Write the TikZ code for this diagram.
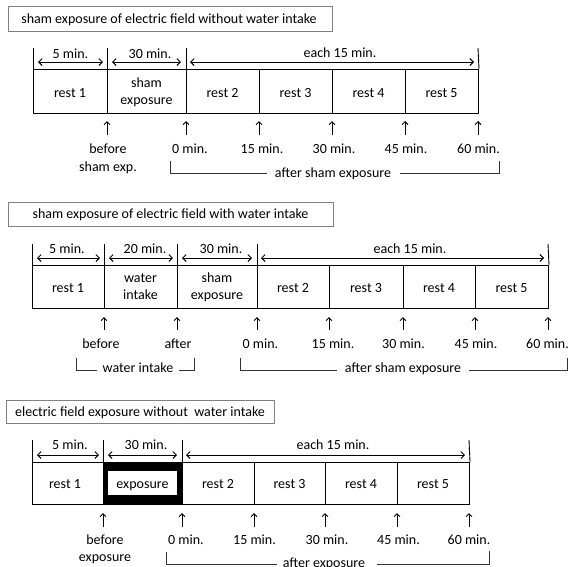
\documentclass[tikz,border=0pt]{standalone}
\usepackage{fontspec}
\setmainfont{Carlito}
\usetikzlibrary{arrows.meta,calc}
\tikzset{
  lbl/.style={inner sep=0pt, anchor=base, font=\fontsize{14}{17}\selectfont, text=black},
  title/.style={draw=black!50, line width=0.8pt, inner sep=0pt, anchor=north west},
  cell/.style={draw=black, line width=1pt, inner sep=0pt, anchor=north west, minimum height=44pt},
  tick/.style={line width=0.9pt},
  dim/.style={line width=0.9pt, {Straight Barb[length=3.5pt,width=7pt]}-{Straight Barb[length=3.5pt,width=7pt]}},
  uparrow/.style={line width=0.9pt, -{Straight Barb[length=3pt,width=6pt]}},
  brk/.style={line width=0.9pt, draw=black!80}
}
\begin{document}
\begin{tikzpicture}[x=1pt,y=-1pt]
\useasboundingbox (0,0) rectangle (569,566);
\fill[white] (0,0) rectangle (569,566);

% ================= Panel 1 =================
\node[title, minimum width=324pt, minimum height=25pt] (t1) at (8,6) {};
\node[lbl] (t1txt) at (169,23) {sham exposure of electric field without water intake};

\node[cell, minimum width=74pt] (a1) at (33,69) {};
\node[cell, minimum width=79pt] (a2) at (107,69) {};
\node[cell, minimum width=73pt] (a3) at (186,69) {};
\node[cell, minimum width=73pt] (a4) at (259,69) {};
\node[cell, minimum width=73pt] (a5) at (332,69) {};
\node[cell, minimum width=73pt] (a6) at (405,69) {};

\node[lbl] (a1t) at (70,97) {rest 1};
\node[lbl] (a2t) at (146.5,87) {sham};
\node[lbl] (a2u) at (146.5,104) {exposure};
\node[lbl] (a3t) at (222.5,97) {rest 2};
\node[lbl] (a4t) at (295.5,97) {rest 3};
\node[lbl] (a5t) at (368.5,97) {rest 4};
\node[lbl] (a6t) at (441.5,97) {rest 5};

% ticks above
\coordinate (p1k0) at (33,48); \coordinate (p1k1) at (107,48);
\coordinate (p1k2) at (186,48); \coordinate (p1k3) at (478,48);
\draw[tick] (p1k0) -- (a1.north west);
\draw[tick] (p1k1) -- (a2.north west);
\draw[tick] (p1k2) -- (a3.north west);
\draw[tick] (p1k3) -- (a6.north east);
% dimension arrows
\coordinate (p1d0) at (38,62); \coordinate (p1d1) at (103,62);
\coordinate (p1d2) at (112,62); \coordinate (p1d3) at (181,62);
\coordinate (p1d4) at (190,62); \coordinate (p1d5) at (474,62);
\draw[dim] (p1d0) -- (p1d1);
\draw[dim] (p1d2) -- (p1d3);
\draw[dim] (p1d4) -- (p1d5);
\node[lbl] (p1l0) at (70.5,58) {5 min.};
\node[lbl] (p1l1) at (150,58) {30 min.};
\node[lbl] (p1l2) at (340,57) {each 15 min.};

% up arrows
\foreach \x/\n in {107/0,186/1,259/2,332/3,405/4,478/5}{
  \coordinate (p1u\n) at (\x,135); \coordinate (p1v\n) at (\x,121);
  \draw[uparrow] (p1u\n) -- (p1v\n);
}
\node[lbl] (p1b0) at (108,153) {before};
\node[lbl] (p1b1) at (108,171) {sham exp.};
\node[lbl] (p1m0) at (190,153) {0 min.};
\node[lbl] (p1m1) at (262,153) {15 min.};
\node[lbl] (p1m2) at (334,153) {30 min.};
\node[lbl] (p1m3) at (406,153) {45 min.};
\node[lbl] (p1m4) at (478.5,153) {60 min.};
% bracket
\node[lbl] (p1br) at (333,177) {after sham exposure};
\coordinate (p1q0) at (170,161); \coordinate (p1q1) at (170,173);
\coordinate (p1q2) at (267,173); \coordinate (p1q3) at (400,173);
\coordinate (p1q4) at (499,173); \coordinate (p1q5) at (499,161);
\draw[brk] (p1q0) -- (p1q1) -- (p1q2);
\draw[brk] (p1q3) -- (p1q4) -- (p1q5);

% ================= Panel 2 =================
\node[title, minimum width=325pt, minimum height=24pt] (t2) at (8,202) {};
\node[lbl] (t2txt) at (170.5,218) {sham exposure of electric field with water intake};

\node[cell, minimum width=72pt, minimum height=43pt] (b1) at (32,265) {};
\node[cell, minimum width=73pt, minimum height=43pt] (b2) at (104,265) {};
\node[cell, minimum width=80pt, minimum height=43pt] (b3) at (177,265) {};
\node[cell, minimum width=72pt, minimum height=43pt] (b4) at (257,265) {};
\node[cell, minimum width=74pt, minimum height=43pt] (b5) at (329,265) {};
\node[cell, minimum width=72pt, minimum height=43pt] (b6) at (403,265) {};
\node[cell, minimum width=73pt, minimum height=43pt] (b7) at (475,265) {};

\node[lbl] (b1t) at (68,292) {rest 1};
\node[lbl] (b2t) at (140.5,282) {water};
\node[lbl] (b2u) at (140.5,299) {intake};
\node[lbl] (b3t) at (217,282) {sham};
\node[lbl] (b3u) at (217,299) {exposure};
\node[lbl] (b4t) at (293,292) {rest 2};
\node[lbl] (b5t) at (366,292) {rest 3};
\node[lbl] (b6t) at (439,292) {rest 4};
\node[lbl] (b7t) at (511.5,292) {rest 5};

\coordinate (p2k0) at (32,244); \coordinate (p2k1) at (104,244);
\coordinate (p2k2) at (177,244); \coordinate (p2k3) at (257,244);
\coordinate (p2k4) at (548,244);
\draw[tick] (p2k0) -- (b1.north west);
\draw[tick] (p2k1) -- (b2.north west);
\draw[tick] (p2k2) -- (b3.north west);
\draw[tick] (p2k3) -- (b4.north west);
\draw[tick] (p2k4) -- (b7.north east);
\coordinate (p2d0) at (37,258); \coordinate (p2d1) at (100,258);
\coordinate (p2d2) at (109,258); \coordinate (p2d3) at (173,258);
\coordinate (p2d4) at (182,258); \coordinate (p2d5) at (252,258);
\coordinate (p2d6) at (261,258); \coordinate (p2d7) at (544,258);
\draw[dim] (p2d0) -- (p2d1);
\draw[dim] (p2d2) -- (p2d3);
\draw[dim] (p2d4) -- (p2d5);
\draw[dim] (p2d6) -- (p2d7);
\node[lbl] (p2l0) at (67,253) {5 min.};
\node[lbl] (p2l1) at (145,253) {20 min.};
\node[lbl] (p2l2) at (221,253) {30 min.};
\node[lbl] (p2l3) at (410,253) {each 15 min.};

\foreach \x/\n in {104/0,177/1,257/2,329/3,403/4,475/5,548/6}{
  \coordinate (p2u\n) at (\x,330); \coordinate (p2v\n) at (\x,317);
  \draw[uparrow] (p2u\n) -- (p2v\n);
}
\node[lbl] (p2b0) at (101,348) {before};
\node[lbl] (p2b1) at (178,348) {after};
\node[lbl] (p2m0) at (260.5,348) {0 min.};
\node[lbl] (p2m1) at (333,348) {15 min.};
\node[lbl] (p2m2) at (403.5,348) {30 min.};
\node[lbl] (p2m3) at (476,348) {45 min.};
\node[lbl] (p2m4) at (547.5,348) {60 min.};
\node[lbl] (p2w) at (138,372) {water intake};
\coordinate (p2q0) at (76,358); \coordinate (p2q1) at (76,370);
\coordinate (p2q2) at (97,370); \coordinate (p2q3) at (179,370);
\coordinate (p2q4) at (194,370); \coordinate (p2q5) at (194,358);
\draw[brk] (p2q0) -- (p2q1) -- (p2q2);
\draw[brk] (p2q3) -- (p2q4) -- (p2q5);
\node[lbl] (p2br) at (403,372) {after sham exposure};
\coordinate (p2r0) at (240,358); \coordinate (p2r1) at (240,370);
\coordinate (p2r2) at (337,370); \coordinate (p2r3) at (469,370);
\coordinate (p2r4) at (567,370); \coordinate (p2r5) at (567,358);
\draw[brk] (p2r0) -- (p2r1) -- (p2r2);
\draw[brk] (p2r3) -- (p2r4) -- (p2r5);

% ================= Panel 3 =================
\node[title, minimum width=268pt, minimum height=23pt] (t3) at (6,400) {};
\node[lbl] (t3txt) at (140,416) {electric field exposure without\ \ water intake};

\node[cell, minimum width=71pt, minimum height=42pt] (c1) at (32,462) {};
\node[cell, minimum width=79pt, minimum height=42pt, fill=black] (c2) at (103,462) {};
\node[draw=none, fill=white, inner sep=0pt, minimum width=69pt, minimum height=24pt, anchor=north west] (c2in) at (108,470.5) {};
\node[cell, minimum width=72pt, minimum height=42pt] (c3) at (182,462) {};
\node[cell, minimum width=71pt, minimum height=42pt] (c4) at (254,462) {};
\node[cell, minimum width=72pt, minimum height=42pt] (c5) at (325,462) {};
\node[cell, minimum width=72pt, minimum height=42pt] (c6) at (397,462) {};

\node[lbl] (c1t) at (65,488) {rest 1};
\node[lbl] (c2t) at (142.5,488) {exposure};
\node[lbl] (c3t) at (218,488) {rest 2};
\node[lbl] (c4t) at (289.5,488) {rest 3};
\node[lbl] (c5t) at (361,488) {rest 4};
\node[lbl] (c6t) at (433,488) {rest 5};

\coordinate (p3k0) at (32,440); \coordinate (p3k1) at (103,440);
\coordinate (p3k2) at (182,440); \coordinate (p3k3) at (469,440);
\draw[tick] (p3k0) -- (c1.north west);
\draw[tick] (p3k1) -- (c2.north west);
\draw[tick] (p3k2) -- (c3.north west);
\draw[tick] (p3k3) -- (c6.north east);
\coordinate (p3d0) at (37,455); \coordinate (p3d1) at (99,455);
\coordinate (p3d2) at (108,455); \coordinate (p3d3) at (177,455);
\coordinate (p3d4) at (186,455); \coordinate (p3d5) at (465,455);
\draw[dim] (p3d0) -- (p3d1);
\draw[dim] (p3d2) -- (p3d3);
\draw[dim] (p3d4) -- (p3d5);
\node[lbl] (p3l0) at (70,449) {5 min.};
\node[lbl] (p3l1) at (146,449) {30 min.};
\node[lbl] (p3l2) at (333,449) {each 15 min.};

\foreach \x/\n in {103/0,182/1,254/2,325/3,397/4,469/5}{
  \coordinate (p3u\n) at (\x,527); \coordinate (p3v\n) at (\x,513);
  \draw[uparrow] (p3u\n) -- (p3v\n);
}
\node[lbl] (p3b0) at (105,544) {before};
\node[lbl] (p3b1) at (105,561) {exposure};
\node[lbl] (p3m0) at (186,544) {0 min.};
\node[lbl] (p3m1) at (254.5,544) {15 min.};
\node[lbl] (p3m2) at (327,544) {30 min.};
\node[lbl] (p3m3) at (398.5,544) {45 min.};
\node[lbl] (p3m4) at (469,544) {60 min.};
\node[lbl] (p3br) at (324,567) {after exposure};
\coordinate (p3q0) at (166,552); \coordinate (p3q1) at (166,564);
\coordinate (p3q2) at (277,564); \coordinate (p3q3) at (377,564);
\coordinate (p3q4) at (489,564); \coordinate (p3q5) at (489,551);
\draw[brk] (p3q0) -- (p3q1) -- (p3q2);
\draw[brk] (p3q3) -- (p3q4) -- (p3q5);
\end{tikzpicture}
\end{document}
